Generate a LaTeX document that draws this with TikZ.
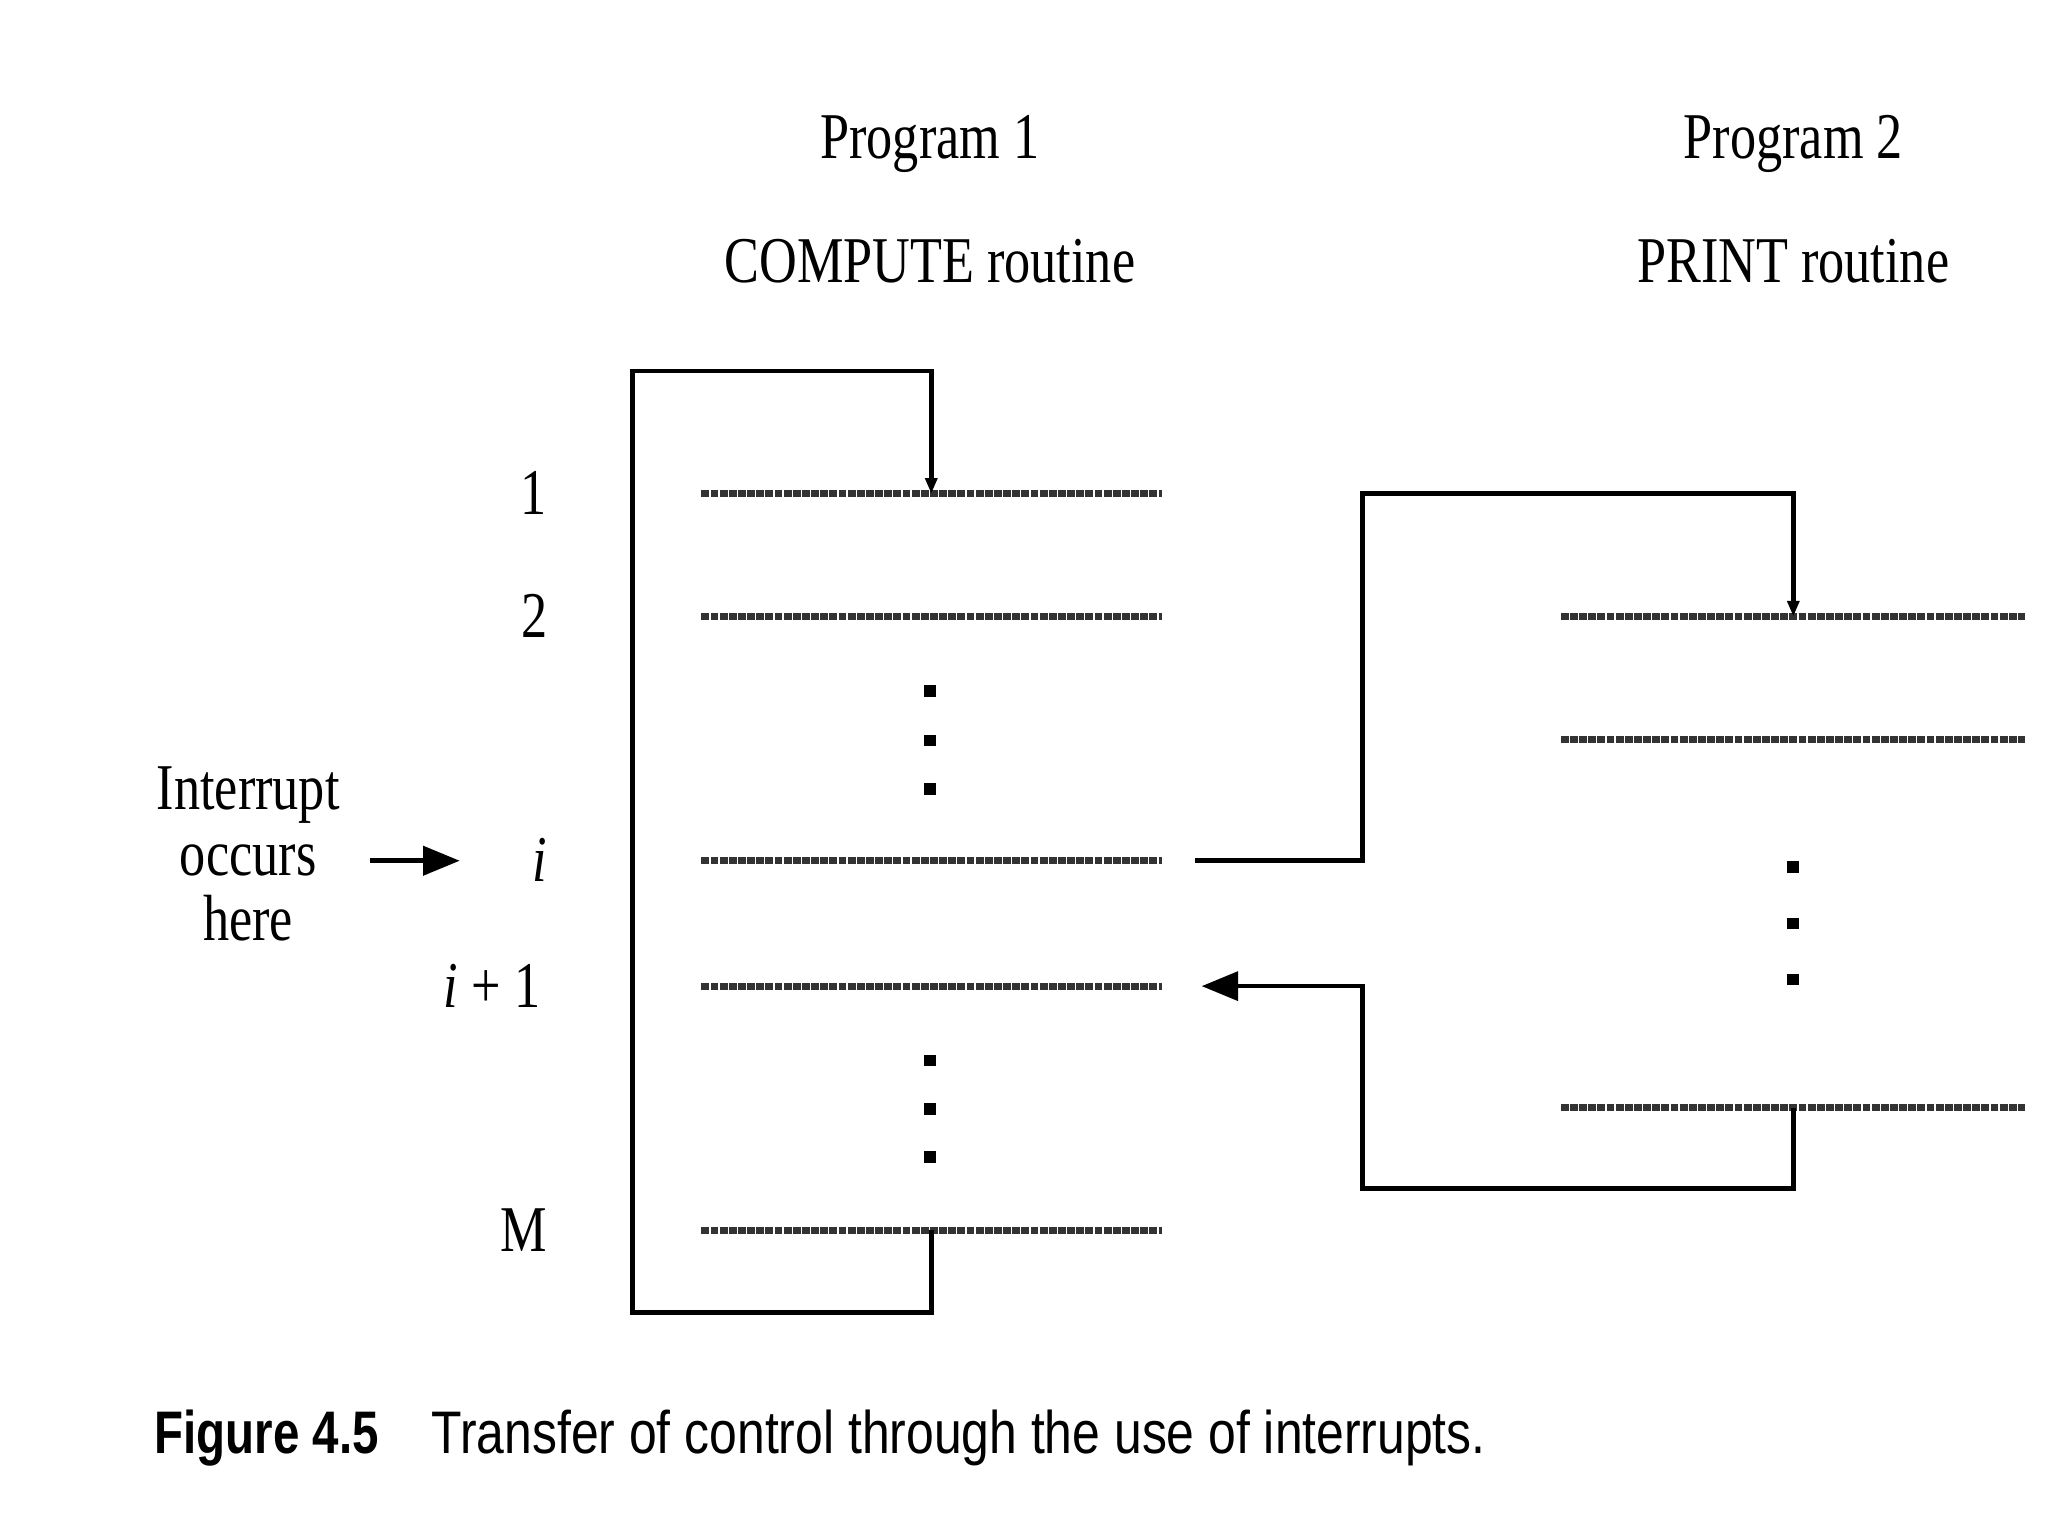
\documentclass[tikz,border=0pt]{standalone}
\usepackage{fontspec}
\newfontfamily\lblfont{Liberation Serif}[FakeStretch=0.8]
\newfontfamily\capfont{Liberation Sans}[FakeStretch=0.83]
\newfontfamily\capboldfont{Liberation Sans}[FakeStretch=0.79]
\usetikzlibrary{arrows.meta}
\begin{document}
\begin{tikzpicture}[x=0.5pt,y=-0.5pt,
  conn/.style={line width=1.8pt, line join=miter},
  instr/.style={line width=2.6pt, black!80, dash pattern=on 3pt off 0.5pt},
  lbl/.style={font=\lblfont\fontsize{25}{25}\selectfont, inner sep=0pt},
  caplbl/.style={font=\fontsize{23}{23}\selectfont, inner sep=0pt},
  vdot/.style={rectangle, fill=black, inner sep=0pt, minimum size=4.5pt},
  bigtip/.style={-{Triangle[length=14pt,width=11pt]}},
  smalltip/.style={-{Triangle[length=6pt,width=4.5pt]}},
]
\useasboundingbox (0,0) rectangle (1568,1176);
\fill[white] (0,0) rectangle (1568,1176);

% titles
\node[lbl, anchor=base] (t1) at (712,121) {Program 1};
\node[lbl, anchor=base] (t1b) at (712,216) {COMPUTE routine};
\node[lbl, anchor=base] (t2) at (1373,121) {Program 2};
\node[lbl, anchor=base] (t2b) at (1373,216) {PRINT routine};

% program 1 instruction lines
\foreach \n/\y in {1/378, 2/472, i/659, ii/755, M/942}{
  \coordinate (a\n w) at (537,\y);
  \coordinate (a\n e) at (890,\y);
  \coordinate (a\n) at (713,\y);
  \draw[instr] (a\n w) -- (a\n e);
}
% program 2 instruction lines
\foreach \n/\y in {1/472, 2/566, L/848}{
  \coordinate (b\n w) at (1195,\y);
  \coordinate (b\n e) at (1550,\y);
  \coordinate (b\n) at (1373,\y);
  \draw[instr] (b\n w) -- (b\n e);
}

% line labels
\node[lbl, anchor=base east] (l1) at (419,394) {1};
\node[lbl, anchor=base east] (l2) at (420,488) {2};
\node[lbl, anchor=base east] (li) at (419,675) {\itshape i};
\node[lbl, anchor=base east] (lii) at (414,771) {{\itshape i} + 1};
\node[lbl, anchor=base east] (lM) at (419,958) {M};

% vertical dots
\foreach \y [count=\k] in {529,567,604}{\node[vdot] (d1\k) at (712,\y) {};}
\foreach \y [count=\k] in {812,849,886}{\node[vdot] (d2\k) at (712,\y) {};}
\foreach \y [count=\k] in {664,707,750}{\node[vdot] (d3\k) at (1373,\y) {};}

% interrupt label and arrow
\node[lbl, align=center, anchor=base] (intr) at (190,720) {Interrupt\\[0pt]occurs\\[0pt]here};
\coordinate (intrS) at (283,659);
\coordinate (intrE) at (352,659);
\draw[conn, bigtip] (intrS) -- (intrE);

% loop of program 1
\coordinate (loopBL) at (484,1005);
\coordinate (loopTL) at (484,284);
\draw[conn, smalltip] (aM) |- (loopBL) -- (loopTL) -| (a1);

% transfer to program 2
\coordinate (aiE) at (915,659);
\coordinate (jmp) at (1043,378);
\draw[conn, smalltip] (aiE) -| (jmp) -| (b1);

% return to program 1
\coordinate (ret) at (1043,910);
\coordinate (aiiE) at (920,755);
\draw[conn, bigtip] (bL) |- (ret) |- (aiiE);

% caption
\node[caplbl, anchor=base west] (capA) at (118,1113) {\capboldfont\bfseries Figure 4.5};
\node[caplbl, anchor=base west] (capB) at (330,1113) {\capfont Transfer of control through the use of interrupts.};
\end{tikzpicture}
\end{document}
